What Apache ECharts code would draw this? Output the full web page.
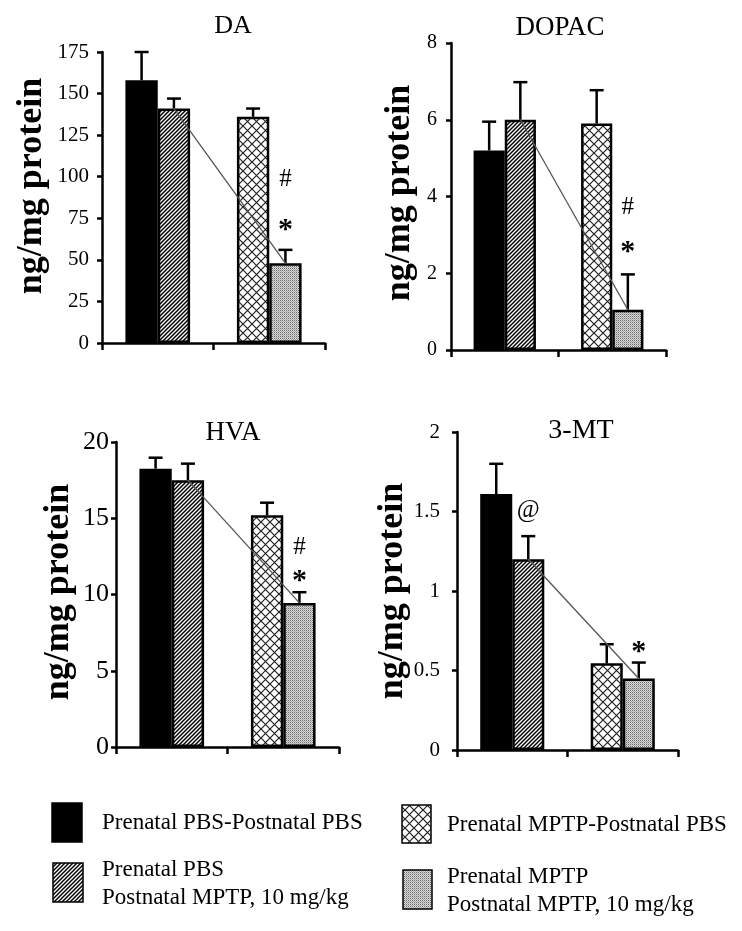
<!DOCTYPE html>
<html><head><meta charset="utf-8">
<script src="https://cdn.jsdelivr.net/npm/echarts@6/dist/echarts.min.js"></script>
<style>html,body{margin:0;padding:0;background:#fff}#c{width:742px;height:931px}</style>
</head><body><div id="c"></div>
<script>
// ---------- data ----------
const groupNames = [
  'Prenatal PBS-Postnatal PBS',
  'Prenatal PBS\nPostnatal MPTP, 10 mg/kg',
  'Prenatal MPTP-Postnatal PBS',
  'Prenatal MPTP\nPostnatal MPTP, 10 mg/kg'
];
const panelTitles = ['DA', 'DOPAC', 'HVA', '3-MT'];
const yAxisName = 'ng/mg protein';
// order: PBS-PBS, PBS-MPTP, MPTP-PBS, MPTP-MPTP
const daMeans    = [158, 141, 136, 48];
const daSem      = [17, 6, 5, 8];
const dopacMeans = [5.2, 6.0, 5.9, 1.05];
const dopacSem   = [0.75, 0.98, 0.87, 0.92];
const hvaMeans   = [18.25, 17.5, 15.2, 9.45];
const hvaSem     = [0.72, 1.08, 0.82, 0.7];
const mtMeans    = [1.61, 1.2, 0.545, 0.45];
const mtSem      = [0.19, 0.145, 0.12, 0.1];
const daTicks    = [0, 25, 50, 75, 100, 125, 150, 175];
const dopacTicks = [0, 2, 4, 6, 8];
const hvaTicks   = [0, 5, 10, 15, 20];
const mtTicks    = [0, 0.5, 1, 1.5, 2];
// significance marks: [group index, symbol]
const daSig    = [[3, '#'], [3, '*']];
const dopacSig = [[3, '#'], [3, '*']];
const hvaSig   = [[3, '#'], [3, '*']];
const mtSig    = [[1, '@'], [3, '*']];

// ---------- patterns ----------
function tile(w, h, bg, draw) {
  const c = document.createElement('canvas');
  c.width = w; c.height = h;
  const ctx = c.getContext('2d');
  ctx.fillStyle = bg; ctx.fillRect(0, 0, w, h);
  draw(ctx);
  return { image: c, repeat: 'repeat' };
}
const hatchFill = tile(4, 4, '#fff', ctx => {
  ctx.strokeStyle = '#000'; ctx.lineWidth = 1.5;
  ctx.beginPath();
  ctx.moveTo(-1, 5); ctx.lineTo(5, -1);
  ctx.moveTo(-1, 1); ctx.lineTo(1, -1);
  ctx.moveTo(3, 5); ctx.lineTo(5, 3);
  ctx.stroke();
});
const crossFill = tile(9, 9, '#fff', ctx => {
  ctx.strokeStyle = '#222'; ctx.lineWidth = 1.2;
  ctx.beginPath();
  ctx.moveTo(0, 0); ctx.lineTo(9, 9);
  ctx.moveTo(0, 9); ctx.lineTo(9, 0);
  ctx.stroke();
});
const dotFill = tile(2, 2, '#dadada', ctx => {
  ctx.fillStyle = '#6a6a6a'; ctx.fillRect(0, 0, 1, 1);
  ctx.fillStyle = '#a8a8a8'; ctx.fillRect(1, 1, 1, 1);
});
const groupFills = ['#000', hatchFill, crossFill, dotFill];

// ---------- layout ----------
const SERIF = '"Liberation Serif", "Times New Roman", serif';
const BAR_FRAC = 0.29;
const panels = [
  { title: panelTitles[0], means: daMeans, sem: daSem, ticks: daTicks, sig: daSig,
    grid: { left: 102, top: 52, width: 223, height: 291 }, tx: 233, ty: 26, tsize: 26,
    nx: 32, ny: 186, lsize: 21, lmargin: 13, sigDy: { '#': 70, '*': 28, '@': 26 } },
  { title: panelTitles[1], means: dopacMeans, sem: dopacSem, ticks: dopacTicks, sig: dopacSig,
    grid: { left: 451, top: 43, width: 215, height: 307 }, tx: 560, ty: 28, tsize: 27,
    nx: 400, ny: 193, lsize: 20, lmargin: 14, sigDy: { '#': 67, '*': 30, '@': 26 } },
  { title: panelTitles[2], means: hvaMeans, sem: hvaSem, ticks: hvaTicks, sig: hvaSig,
    grid: { left: 116, top: 442, width: 223, height: 305 }, tx: 233, ty: 433, tsize: 27,
    nx: 59, ny: 592, lsize: 26, lmargin: 7, sigDy: { '#': 45, '*': 19, '@': 26 } },
  { title: panelTitles[3], means: mtMeans, sem: mtSem, ticks: mtTicks, sig: mtSig,
    grid: { left: 457, top: 432, width: 221, height: 318 }, tx: 581, ty: 431, tsize: 28,
    nx: 393, ny: 591, lsize: 21, lmargin: 17, sigDy: { '#': 45, '*': 18, '@': 26 } }
];

const grids = [], xAxes = [], yAxes = [], series = [], graphics = [];
panels.forEach((p, i) => {
  grids.push(Object.assign({ containLabel: false }, p.grid));
  xAxes.push({
    type: 'category', gridIndex: i, data: ['', ''],
    axisLine: { lineStyle: { color: '#000', width: 2.5 } },
    axisTick: { show: true, length: 7, lineStyle: { color: '#000', width: 2.5 } },
    axisLabel: { show: false }, splitLine: { show: false }
  });
  const t = p.ticks;
  yAxes.push({
    type: 'value', gridIndex: i, min: t[0], max: t[t.length - 1], interval: t[1] - t[0],
    axisLine: { show: true, lineStyle: { color: '#000', width: 2.5 } },
    axisTick: { show: true, length: 5, lineStyle: { color: '#000', width: 2.5 } },
    axisLabel: { fontFamily: SERIF, fontSize: p.lsize, color: '#000', margin: p.lmargin },
    splitLine: { show: false }
  });
  const m = p.means, s = p.sem;
  // left bar of each pair (groups 0 and 2), right bar (groups 1 and 3)
  [[0, 2], [1, 3]].forEach(pair => {
    series.push({
      type: 'bar', xAxisIndex: i, yAxisIndex: i, barWidth: (BAR_FRAC * 100) + '%', barGap: '0%',
      data: pair.map(g => ({ value: m[g], itemStyle: { color: groupFills[g] } })),
      itemStyle: { borderColor: '#000', borderWidth: 2.5 },
      emphasis: { disabled: true }, silent: true
    });
  });
  // error bars (upward only)
  series.push({
    type: 'custom', xAxisIndex: i, yAxisIndex: i, silent: true, clip: false, z: 5,
    data: [0, 1, 2, 3].map(g => [Math.floor(g / 2), m[g], m[g] + s[g], g % 2 ? 1 : -1]),
    renderItem(params, api) {
      const band = api.size([1, 0])[0];
      const off = api.value(3) * band * BAR_FRAC / 2;
      const p0 = api.coord([api.value(0), api.value(1)]);
      const p1 = api.coord([api.value(0), api.value(2)]);
      const x = p0[0] + off;
      return { type: 'group', children: [
        { type: 'line', shape: { x1: x, y1: p0[1], x2: x, y2: p1[1] }, style: { stroke: '#000', lineWidth: 2.5 } },
        { type: 'line', shape: { x1: x - 7, y1: p1[1], x2: x + 7, y2: p1[1] }, style: { stroke: '#000', lineWidth: 2.5 } }
      ] };
    }
  });
  // thin connecting line between the two postnatal-MPTP groups
  series.push({
    type: 'custom', xAxisIndex: i, yAxisIndex: i, silent: true, clip: false, z: 6,
    data: [[0, m[1], 1, m[3]]],
    renderItem(params, api) {
      const band = api.size([1, 0])[0];
      const off = band * BAR_FRAC / 2;
      const a = api.coord([api.value(0), api.value(1)]);
      const b = api.coord([api.value(2), api.value(3)]);
      return { type: 'line', shape: { x1: a[0] + off, y1: a[1], x2: b[0] + off, y2: b[1] },
        style: { stroke: '#555', lineWidth: 1.3 } };
    }
  });
  // significance symbols above error bars
  series.push({
    type: 'custom', xAxisIndex: i, yAxisIndex: i, silent: true, clip: false, z: 7,
    data: p.sig.map(sg => [Math.floor(sg[0] / 2), m[sg[0]] + s[sg[0]], sg[0] % 2 ? 1 : -1]),
    renderItem(params, api) {
      const sym = p.sig[params.dataIndex][1];
      const band = api.size([1, 0])[0];
      const off = api.value(2) * band * BAR_FRAC / 2;
      const c = api.coord([api.value(0), api.value(1)]);
      const bold = sym === '*';
      const size = sym === '*' ? 30 : 25;
      return { type: 'text', x: c[0] + off, y: c[1] - p.sigDy[sym] + (bold ? 8 : 0),
        style: { text: sym, font: (bold ? 'bold ' : '') + size + 'px ' + SERIF,
          fill: '#000', align: 'center', verticalAlign: 'middle', textAlign: 'center', textVerticalAlign: 'middle' } };
    }
  });
  graphics.push({ type: 'text', x: p.tx, y: p.ty, silent: true,
    style: { text: p.title, font: p.tsize + 'px ' + SERIF, fill: '#000',
      align: 'center', verticalAlign: 'middle', textAlign: 'center', textVerticalAlign: 'middle' } });
  graphics.push({ type: 'text', x: p.nx, y: p.ny, rotation: Math.PI / 2, silent: true,
    style: { text: yAxisName, font: 'bold 36px ' + SERIF, fill: '#000',
      align: 'center', verticalAlign: 'middle', textAlign: 'center', textVerticalAlign: 'middle' } });
});

// legend (drawn as graphic swatches + text)
const legendPos = [
  { r: [52, 803, 30, 39], tx: 102, ty: 809 },
  { r: [53, 863, 30, 39], tx: 102, ty: 856 },
  { r: [402, 805, 29, 38], tx: 447, ty: 811 },
  { r: [403, 870, 29, 39], tx: 447, ty: 863 }
];
groupNames.forEach((name, g) => {
  const L = legendPos[g];
  graphics.push({ type: 'rect', silent: true,
    shape: { x: L.r[0], y: L.r[1], width: L.r[2], height: L.r[3] },
    style: { fill: groupFills[g], stroke: '#000', lineWidth: 1.5 } });
  graphics.push({ type: 'text', x: L.tx, y: L.ty, silent: true,
    style: { text: name, font: '23px ' + SERIF, fill: '#000', lineHeight: 28,
      align: 'left', verticalAlign: 'top', textAlign: 'left', textVerticalAlign: 'top' } });
});

const chart = echarts.init(document.getElementById('c'), null, { renderer: 'canvas' });
chart.setOption({
  backgroundColor: '#fff', animation: false,
  grid: grids, xAxis: xAxes, yAxis: yAxes, series: series,
  graphic: { elements: graphics }
});
</script></body></html>
